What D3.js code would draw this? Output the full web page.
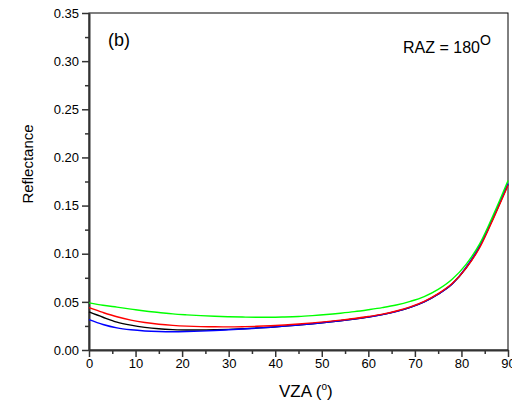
<!DOCTYPE html>
<html><head><meta charset="utf-8">
<script src="https://cdn.jsdelivr.net/npm/d3@7"></script>
<style>body{margin:0;background:#fff}svg{display:block;font-family:"Liberation Sans",Arial,sans-serif}</style>
</head><body>
<svg id="c" width="512" height="406"></svg>
<script>
const vza = [0,3,6,9,12,15,18,21,24,27,30,33,36,39,42,45,48,51,54,57,60,63,66,69,72,75,78,81,84,87,90];
const green = [0.049,0.0465,0.0445,0.0425,0.0405,0.039,0.0375,0.0365,0.0357,0.035,0.0345,0.0342,0.034,0.034,0.0343,0.0348,0.0357,0.0368,0.0382,0.0398,0.0418,0.044,0.0467,0.0505,0.0555,0.063,0.0735,0.089,0.111,0.142,0.176];
const red = [0.044,0.039,0.0345,0.031,0.0285,0.0268,0.0256,0.0248,0.0243,0.0241,0.024,0.0242,0.0246,0.0252,0.026,0.027,0.0282,0.0295,0.031,0.0327,0.0348,0.0372,0.0405,0.0448,0.0505,0.0585,0.069,0.085,0.107,0.138,0.171];
const black = [0.0395,0.034,0.029,0.0258,0.0235,0.022,0.0212,0.0208,0.0208,0.021,0.0214,0.022,0.0228,0.0237,0.0248,0.026,0.0273,0.0288,0.0304,0.0322,0.0343,0.0368,0.0401,0.0443,0.05,0.058,0.0685,0.085,0.108,0.139,0.172];
const blue = [0.0315,0.0265,0.023,0.021,0.0198,0.0192,0.019,0.0192,0.0196,0.0202,0.021,0.0218,0.0227,0.0237,0.0248,0.026,0.0273,0.0288,0.0304,0.0322,0.0342,0.0367,0.04,0.0443,0.05,0.058,0.0685,0.086,0.109,0.140,0.173];
const series = [
  {name:"black", values:black, color:"#000000"},
  {name:"blue", values:blue, color:"#0000ff"},
  {name:"red", values:red, color:"#ff0000"},
  {name:"green", values:green, color:"#00ff00"}
];
const xTicks = [0,10,20,30,40,50,60,70,80,90];
const yTicks = [0,0.05,0.10,0.15,0.20,0.25,0.30,0.35];

const svg = d3.select("#c");
const L=89, R=508, T=13, B=350;
const x = d3.scaleLinear().domain([0,90]).range([L,R]);
const y = d3.scaleLinear().domain([0,0.35]).range([B,T]);

// frame
svg.append("rect").attr("x",L).attr("y",T).attr("width",R-L).attr("height",B-T)
  .attr("fill","none").attr("stroke","#000").attr("stroke-width",1);

// minor ticks
const xMinor = d3.range(5,90,10);
const yMinor = d3.range(0.025,0.35,0.05);
svg.append("g").attr("transform",`translate(0,${B})`)
  .call(d3.axisBottom(x).tickValues(xMinor).tickSize(4).tickFormat(""))
  .call(g=>g.select(".domain").remove())
  .call(g=>g.selectAll("line").attr("stroke","#333").attr("stroke-width",1.5));
svg.append("g").attr("transform",`translate(${L},0)`)
  .call(d3.axisLeft(y).tickValues(yMinor).tickSize(4).tickFormat(""))
  .call(g=>g.select(".domain").remove())
  .call(g=>g.selectAll("line").attr("stroke","#333").attr("stroke-width",1.5));

// major axes
const xa = svg.append("g").attr("transform",`translate(0,${B})`)
  .call(d3.axisBottom(x).tickValues(xTicks).tickSize(7).tickSizeOuter(0).tickPadding(2).tickFormat(d3.format("d")));
const ya = svg.append("g").attr("transform",`translate(${L},0)`)
  .call(d3.axisLeft(y).tickValues(yTicks).tickSize(7).tickSizeOuter(0).tickPadding(3).tickFormat(d3.format(".2f")));
[xa,ya].forEach(a=>{
  a.select(".domain").attr("stroke","#333").attr("stroke-width",2);
  a.selectAll(".tick line").attr("stroke","#333").attr("stroke-width",1.5);
  a.selectAll("text").attr("font-size",13).attr("fill","#000").attr("font-family","Liberation Sans, Arial, sans-serif");
});

// curves
const line = d3.line().x((d,i)=>x(vza[i])).y(d=>y(d)).curve(d3.curveMonotoneX);
svg.append("g").selectAll("path").data(series).join("path")
  .attr("d",d=>line(d.values)).attr("fill","none").attr("stroke",d=>d.color).attr("stroke-width",1.4);

// labels
svg.append("text").attr("x",108).attr("y",46).attr("font-size",18).text("(b)");
const raz = svg.append("text").attr("x",403).attr("y",53).attr("font-size",16);
raz.append("tspan").text("RAZ = 180");
raz.append("tspan").attr("dy",-8).attr("font-size",14).text("O");

svg.append("text").attr("transform","translate(33,164) rotate(-90)").attr("text-anchor","middle")
  .attr("font-size",15).text("Reflectance");
const xt = svg.append("text").attr("x",279).attr("y",397).attr("font-size",17);
xt.append("tspan").text("VZA (");
xt.append("tspan").attr("dy",-7).attr("font-size",10).text("o");
xt.append("tspan").attr("dy",7).text(")");
</script>
</body></html>
